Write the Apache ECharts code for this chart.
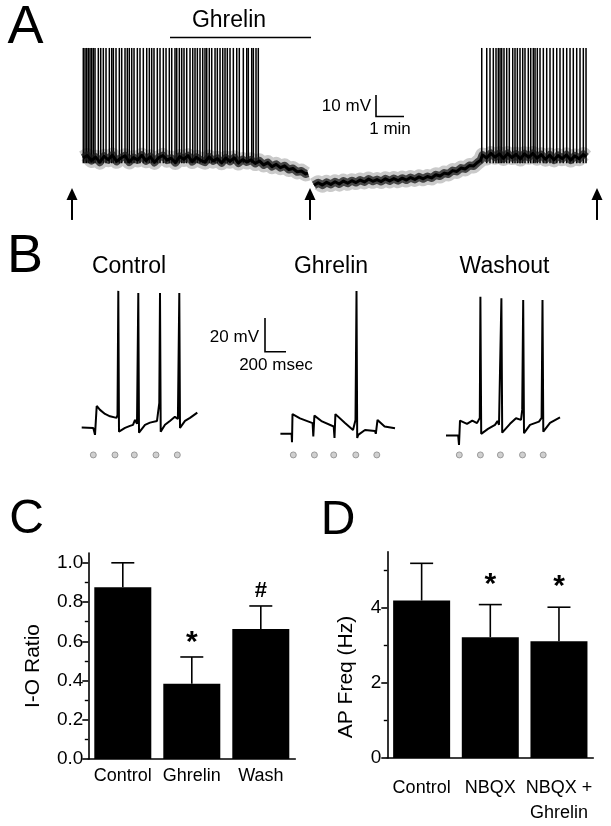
<!DOCTYPE html>
<html><head><meta charset="utf-8">
<script src="https://cdn.jsdelivr.net/npm/echarts@6/dist/echarts.min.js"></script>
<style>html,body{margin:0;padding:0;background:#fff}#c{width:611px;height:826px}</style>
</head><body><div id="c"></div>
<script>
// ---------- Panel A : long recording (time in s, membrane potential in mV) ----------
const traceA = [
 [0,-55.0],[9,-53.8],[18,-56.2],[27,-54.6],[36,-57.0],[45,-54.2],[54,-55.8],[63,-53.6],[72,-56.6],[81,-55.0],
 [90,-53.9],[99,-56.9],[108,-54.8],[117,-55.9],[126,-53.7],[135,-56.3],[144,-54.4],[153,-57.1],[162,-54.9],[171,-53.8],
 [180,-56.0],[189,-55.1],[198,-57.2],[207,-54.3],[216,-55.6],[225,-53.9],[234,-56.7],[243,-54.7],[252,-56.1],[261,-57.0],
 [270,-54.5],[279,-56.4],[288,-55.2],[297,-57.3],[306,-55.0],[315,-56.6],[324,-54.9],[333,-57.4],[342,-55.8],[351,-56.9],
 [360,-55.9],[369,-57.6],[378,-56.4],[387,-58.3],[396,-57.2],[405,-59.1],[414,-58.0],[423,-59.6],[432,-58.7],[441,-60.5],
 [450,-60.0],[459,-61.6],[468,-61.2],[477,-62.6],[482,-62.2],[488,null],
 [495,-68.0],[504,-66.8],[513,-67.9],[522,-66.6],[531,-67.6],[540,-66.3],[549,-67.4],[558,-66.0],[567,-67.0],[576,-65.8],
 [585,-66.7],[594,-65.5],[603,-66.4],[612,-65.0],[621,-66.1],[630,-65.3],[639,-66.2],[648,-64.9],[657,-65.9],[666,-64.8],
 [675,-65.8],[684,-64.6],[693,-65.5],[702,-64.3],[711,-65.2],[720,-64.0],[729,-64.9],[738,-63.8],[747,-64.5],[756,-63.0],
 [765,-63.6],[774,-62.2],[783,-62.6],[792,-61.0],[801,-61.4],[810,-59.8],[819,-60.2],[828,-58.6],[837,-58.8],[846,-57.0],
 [852,-56.0],[856,-53.6],[865,-55.0],[874,-52.8],[883,-54.6],[892,-53.0],[901,-55.2],[910,-52.9],[919,-54.8],[928,-53.2],
 [937,-55.5],[946,-53.0],[955,-54.7],[964,-52.8],[973,-55.1],[982,-53.4],[991,-55.6],[1000,-53.6],[1009,-55.9],[1018,-53.8],
 [1027,-55.3],[1036,-53.5],[1045,-56.0],[1054,-54.0],[1063,-55.4],[1072,-53.3],[1078,-54.5]
];
const spikeTimesA = [
 0.6,4.3,7.9,11.4,15,18.6,22.1,25.7,32.8,37.9,43.5,49.3,56.4,61.5,65,70.7,77.8,82.9,90,94.9,99.2,104.4,109.3,116.4,
 122.1,129.2,136.5,142.1,147.2,152.1,159.2,165,172.1,177.9,184.9,190.1,197.1,200.8,206.4,211.5,216.4,222.2,229.3,235.1,
 240,245,250.7,256.5,261.4,265.1,270.6,275.8,282.9,287.8,293.6,299.4,304.3,309.2,315,322.1,329.4,334.9,343.5,350.8,
 354.2,361.5,365,370.7,375.6,
 854.4,865.1,872.1,879.2,885,889.9,893.6,897.2,902.1,907.9,913.5,920.8,925.7,930.7,936.4,942.2,947.1,954.2,959.4,
 964.9,968.6,973.5,979.3,986.4,993.6,1000.7,1007.8,1015.1,1022.1,1029.2,1036.5,1043.6,1050.6,1057.9,1065,1072.1,1077.9
];
const spikePeakA = -2.6;      // spikes clipped at display top
const spikeFootA = -57.5;
const arrowTimesA = [-23.6, 486.4, 1101.4];
const arrowTipA = -69.3, arrowTailA = -84.5;
const ghrelinPeriodA = [186.4, 488.6];
const ghrelinBarLevelA = 2.4;

// ---------- Panel B : evoked responses (time in ms, mV) ----------
const controlTrace = [
 [0,-64.8],[110.5,-65],[126.7,-69.1],[142.9,-52.1],[174.3,-54.4],[221.9,-56.8],[269.5,-58.2],[331.4,-59.1],[341,-57.4],
 [348.6,15.6],[355.2,-67.2],[412.4,-65],[460,-63.8],[488.6,-63.2],[507.6,-60.3],[526.7,-62.6],[539,14.4],[545.7,-67.8],
 [602.9,-63.2],[650.5,-61.9],[717.1,-60.9],[739,-50.3],[745.7,14.4],[752.4,-67.2],[793.3,-63.2],[840,-60.9],[887.6,-58.5],
 [916.2,-59.7],[929.5,14.4],[936.2,-65],[983.8,-60.9],[1031.4,-59.1],[1101,-56]
];
const ghrelinTrace = [
 [0,-68.5],[106.7,-68.5],[110.5,-73.4],[115.2,-56.9],[186.7,-59.4],[306.7,-62.2],[313.3,-70.1],[323.8,-57.8],[396.2,-61.2],
 [507.6,-64.2],[515.2,-70.9],[523.8,-56.9],[615.2,-62.1],[691.4,-66.2],[715.2,-60.3],[724.8,15.5],[731.4,-70.9],[741,-69.1],
 [805.7,-66.2],[900.9,-66.8],[908.6,-68.5],[924.8,-60.3],[992.4,-64.2],[1091.4,-65.2]
];
const washoutTrace = [
 [0,-69.5],[116.2,-69.5],[123.8,-75],[133.3,-60.7],[200,-62.6],[250.5,-60.7],[295.2,-62.2],[321.9,-59.1],[327.6,12.2],
 [335.2,-68.5],[400,-65.6],[466.7,-63.2],[490.5,-60.9],[504.8,-63.2],[527.6,11.3],[535.2,-67.8],[609.5,-62.6],[666.7,-59.3],
 [714.3,-60.3],[725.7,-54.4],[735.2,10.3],[742.9,-68.1],[800,-63.2],[885.7,-61.3],[910.5,-59.1],[919,10.3],[926.7,-67.2],
 [990.5,-62.1],[1085.7,-58.8]
];
const controlStim = [110.5, 317, 501, 707.6, 910.5];
const ghrelinStim = [122.9, 323.8, 507.6, 718.1, 918.1];
const washoutStim = [126.7, 327.6, 518.1, 728.6, 925.7];
const stimMarkLevel = -80.9;

// ---------- Panel C ----------
const cCategories = ['Control', 'Ghrelin', 'Wash'];
const cMeans = [0.875, 0.384, 0.662];
const cErrors = [0.125, 0.136, 0.118];
const cMarks = ['', '*', '#'];
const cTicks = [0, 0.2, 0.4, 0.6, 0.8, 1.0];
const cMinorTicks = [0.1, 0.3, 0.5, 0.7, 0.9];

// ---------- Panel D ----------
const dCategories = ['Control', 'NBQX', 'NBQX +\nGhrelin'];
const dMeans = [4.2, 3.22, 3.11];
const dErrors = [0.99, 0.87, 0.91];
const dMarks = ['', '*', '*'];
const dTicks = [0, 2, 4];
const dMinorTicks = [1, 3, 5];

// ---------- layout ----------
const FF = '"Liberation Sans", Arial, sans-serif';
const traceOffsetB = {control: 778.1, ghrelin: 2670.5, washout: 4247.6};

const chart = echarts.init(document.getElementById('c'), null, {renderer: 'canvas'});

const hiddenVal = (extra) => Object.assign({type: 'value', show: false, splitLine: {show: false}}, extra);

function errRender(means, errs, marks, markOffset) {
  return function (params, api) {
    const i = params.dataIndex;
    const m = means[i], e = errs[i];
    const b = api.coord([i, m]);
    const t = api.coord([i, m + e]);
    const hw = 11.5;
    const ch = [
      {type: 'line', shape: {x1: b[0], y1: b[1], x2: t[0], y2: t[1]}, style: {stroke: '#000', lineWidth: 1.6}},
      {type: 'line', shape: {x1: t[0] - hw, y1: t[1], x2: t[0] + hw, y2: t[1]}, style: {stroke: '#000', lineWidth: 1.6}}
    ];
    if (marks[i]) {
      const star = marks[i] === '*';
      ch.push({type: 'text', x: t[0], y: t[1] - (star ? markOffset.star : markOffset.hash),
        style: {text: marks[i], font: (star ? 'bold 30px ' : 'bold 22px ') + FF, fill: '#000', textAlign: 'center', textVerticalAlign: 'middle'}});
    }
    return {type: 'group', children: ch};
  };
}

const axisBlack = {lineStyle: {color: '#000', width: 1.6}};
const traceLayer = (color, width, opacity, z) => ({type: 'line', xAxisIndex: 0, yAxisIndex: 0, data: traceA, showSymbol: false,
  connectNulls: false, lineStyle: {color: color, width: width, opacity: opacity, join: 'round'}, z: z, silent: true});

const option = {
  animation: false,
  backgroundColor: '#fff',
  grid: [
    {left: 0, top: 0.5, width: 611, height: 231},
    {left: 0, top: 280, width: 611, height: 190.4},
    {left: 88.3, top: 553, width: 207, height: 206},
    {left: 387.3, top: 551.7, width: 206, height: 206.6}
  ],
  xAxis: [
    hiddenVal({gridIndex: 0, min: -177.9, max: 1131.4}),
    hiddenVal({gridIndex: 1, min: 0, max: 5819}),
    {type: 'category', gridIndex: 2, data: cCategories, axisLine: axisBlack,
     axisTick: {alignWithLabel: true, length: 5, lineStyle: {color: '#000', width: 1.6}},
     axisLabel: {interval: 0, color: '#000', fontSize: 18, fontFamily: FF, margin: 8}},
    {type: 'category', gridIndex: 3, data: dCategories, axisLine: axisBlack,
     axisTick: {alignWithLabel: true, length: 5, lineStyle: {color: '#000', width: 1.6}},
     axisLabel: {interval: 0, color: '#000', fontSize: 18, fontFamily: FF, margin: 18, lineHeight: 25}}
  ],
  yAxis: [
    hiddenVal({gridIndex: 0, min: -90, max: 20}),
    hiddenVal({gridIndex: 1, min: -90, max: 22}),
    {type: 'value', gridIndex: 2, min: 0, max: 1.05, position: 'left', splitLine: {show: false},
     axisLine: {show: true, lineStyle: {color: '#000', width: 1.6}},
     axisTick: {show: true, length: 6, customValues: cTicks, lineStyle: {color: '#000', width: 1.6}},
     axisLabel: {customValues: cTicks, formatter: v => v.toFixed(1), color: '#000', fontSize: 19, fontFamily: FF, margin: 5}},
    {type: 'value', gridIndex: 2, min: 0, max: 1.05, position: 'left', splitLine: {show: false},
     axisLine: {show: false},
     axisTick: {show: true, length: 3.5, customValues: cMinorTicks, lineStyle: {color: '#000', width: 1.4}},
     axisLabel: {show: false}},
    {type: 'value', gridIndex: 3, min: 0, max: 5.5, position: 'left', splitLine: {show: false},
     axisLine: {show: true, lineStyle: {color: '#000', width: 1.6}},
     axisTick: {show: true, length: 6, customValues: dTicks, lineStyle: {color: '#000', width: 1.6}},
     axisLabel: {customValues: dTicks, color: '#000', fontSize: 19, fontFamily: FF, margin: 6}},
    {type: 'value', gridIndex: 3, min: 0, max: 5.5, position: 'left', splitLine: {show: false},
     axisLine: {show: false},
     axisTick: {show: true, length: 3.5, customValues: dMinorTicks, lineStyle: {color: '#000', width: 1.4}},
     axisLabel: {show: false}}
  ],
  series: [
    // ----- A -----
    traceLayer('#666', 15, 0.35, 2),
    {type: 'custom', xAxisIndex: 0, yAxisIndex: 0, data: spikeTimesA.map(t => [t, spikePeakA]), silent: true, z: 3,
     renderItem: (params, api) => {
       const t = api.value(0);
       const p1 = api.coord([t, spikeFootA]), p2 = api.coord([t, spikePeakA]);
       return {type: 'line', shape: {x1: p1[0], y1: p1[1], x2: p2[0], y2: p2[1]}, style: {stroke: '#000', lineWidth: 1.5}};
     }},
    traceLayer('#1a1a1a', 8, 0.75, 4),
    traceLayer('#000', 3, 1, 5),
    {type: 'line', xAxisIndex: 0, yAxisIndex: 0, data: ghrelinPeriodA.map(t => [t, ghrelinBarLevelA]), showSymbol: false,
     lineStyle: {color: '#000', width: 1.6}, silent: true},
    {type: 'custom', xAxisIndex: 0, yAxisIndex: 0, data: arrowTimesA.map(t => [t, arrowTipA]), silent: true, clip: false,
     renderItem: (params, api) => {
       const t = api.value(0);
       const tip = api.coord([t, arrowTipA]), tail = api.coord([t, arrowTailA]);
       return {type: 'group', children: [
         {type: 'line', shape: {x1: tail[0], y1: tail[1], x2: tip[0], y2: tip[1] + 8}, style: {stroke: '#000', lineWidth: 2}},
         {type: 'polygon', shape: {points: [[tip[0], tip[1]], [tip[0] - 5.5, tip[1] + 12], [tip[0] + 5.5, tip[1] + 12]]}, style: {fill: '#000'}}
       ]};
     }},
    // ----- B -----
    {type: 'line', xAxisIndex: 1, yAxisIndex: 1, data: controlTrace.map(p => [p[0] + traceOffsetB.control, p[1]]),
     showSymbol: false, lineStyle: {color: '#000', width: 2}, silent: true},
    {type: 'line', xAxisIndex: 1, yAxisIndex: 1, data: ghrelinTrace.map(p => [p[0] + traceOffsetB.ghrelin, p[1]]),
     showSymbol: false, lineStyle: {color: '#000', width: 2}, silent: true},
    {type: 'line', xAxisIndex: 1, yAxisIndex: 1, data: washoutTrace.map(p => [p[0] + traceOffsetB.washout, p[1]]),
     showSymbol: false, lineStyle: {color: '#000', width: 2}, silent: true},
    {type: 'scatter', xAxisIndex: 1, yAxisIndex: 1, symbol: 'circle', symbolSize: 6, silent: true,
     itemStyle: {color: '#c4c4c4', borderColor: '#8a8a8a', borderWidth: 1},
     data: [].concat(
       controlStim.map(t => [t + traceOffsetB.control, stimMarkLevel]),
       ghrelinStim.map(t => [t + traceOffsetB.ghrelin, stimMarkLevel]),
       washoutStim.map(t => [t + traceOffsetB.washout, stimMarkLevel]))},
    // ----- C -----
    {type: 'bar', xAxisIndex: 2, yAxisIndex: 2, data: cMeans, barWidth: 57, itemStyle: {color: '#000'}, silent: true},
    {type: 'custom', xAxisIndex: 2, yAxisIndex: 2, data: cMeans.map((m, i) => [i, m]), silent: true, z: 5, clip: false,
     renderItem: errRender(cMeans, cErrors, cMarks, {star: 14, hash: 15})},
    // ----- D -----
    {type: 'bar', xAxisIndex: 3, yAxisIndex: 4, data: dMeans, barWidth: 57, itemStyle: {color: '#000'}, silent: true},
    {type: 'custom', xAxisIndex: 3, yAxisIndex: 4, data: dMeans.map((m, i) => [i, m]), silent: true, z: 5, clip: false,
     renderItem: errRender(dMeans, dErrors, dMarks, {star: 20, hash: 15})}
  ],
  graphic: [
    // panel letters
    {type: 'text', x: 25.5, y: 28, style: {text: 'A', font: '54px ' + FF, fill: '#000', textAlign: 'center', textVerticalAlign: 'middle'}},
    {type: 'text', x: 25, y: 257, style: {text: 'B', font: '54px ' + FF, fill: '#000', textAlign: 'center', textVerticalAlign: 'middle'}},
    {type: 'text', x: 26.5, y: 520, style: {text: 'C', font: '48px ' + FF, fill: '#000', textAlign: 'center', textVerticalAlign: 'middle'}},
    {type: 'text', x: 338, y: 520.5, style: {text: 'D', font: '48px ' + FF, fill: '#000', textAlign: 'center', textVerticalAlign: 'middle'}},
    // panel A labels / scale bar
    {type: 'text', x: 229, y: 21, style: {text: 'Ghrelin', font: '23px ' + FF, fill: '#000', textAlign: 'center', textVerticalAlign: 'middle'}},
    {type: 'polyline', shape: {points: [[376, 95], [376, 116.5], [404, 116.5]]}, style: {stroke: '#000', lineWidth: 1.6, fill: null}},
    {type: 'text', x: 371, y: 106, style: {text: '10 mV', font: '17px ' + FF, fill: '#000', textAlign: 'right', textVerticalAlign: 'middle'}},
    {type: 'text', x: 390, y: 129, style: {text: '1 min', font: '17px ' + FF, fill: '#000', textAlign: 'center', textVerticalAlign: 'middle'}},
    // panel B labels / scale bar
    {type: 'text', x: 129, y: 267, style: {text: 'Control', font: '23px ' + FF, fill: '#000', textAlign: 'center', textVerticalAlign: 'middle'}},
    {type: 'text', x: 331, y: 267, style: {text: 'Ghrelin', font: '23px ' + FF, fill: '#000', textAlign: 'center', textVerticalAlign: 'middle'}},
    {type: 'text', x: 504.5, y: 267, style: {text: 'Washout', font: '23px ' + FF, fill: '#000', textAlign: 'center', textVerticalAlign: 'middle'}},
    {type: 'polyline', shape: {points: [[265, 318], [265, 351.7], [286, 351.7]]}, style: {stroke: '#000', lineWidth: 1.6, fill: null}},
    {type: 'text', x: 259, y: 337, style: {text: '20 mV', font: '17px ' + FF, fill: '#000', textAlign: 'right', textVerticalAlign: 'middle'}},
    {type: 'text', x: 276, y: 365, style: {text: '200 msec', font: '17px ' + FF, fill: '#000', textAlign: 'center', textVerticalAlign: 'middle'}},
    // y-axis titles
    {type: 'text', x: 33, y: 666, rotation: Math.PI / 2, style: {text: 'I-O Ratio', font: '21px ' + FF, fill: '#000', textAlign: 'center', textVerticalAlign: 'middle'}},
    {type: 'text', x: 346.7, y: 677, rotation: Math.PI / 2, style: {text: 'AP Freq (Hz)', font: '21px ' + FF, fill: '#000', textAlign: 'center', textVerticalAlign: 'middle'}}
  ]
};
chart.setOption(option);
</script>
</body></html>
